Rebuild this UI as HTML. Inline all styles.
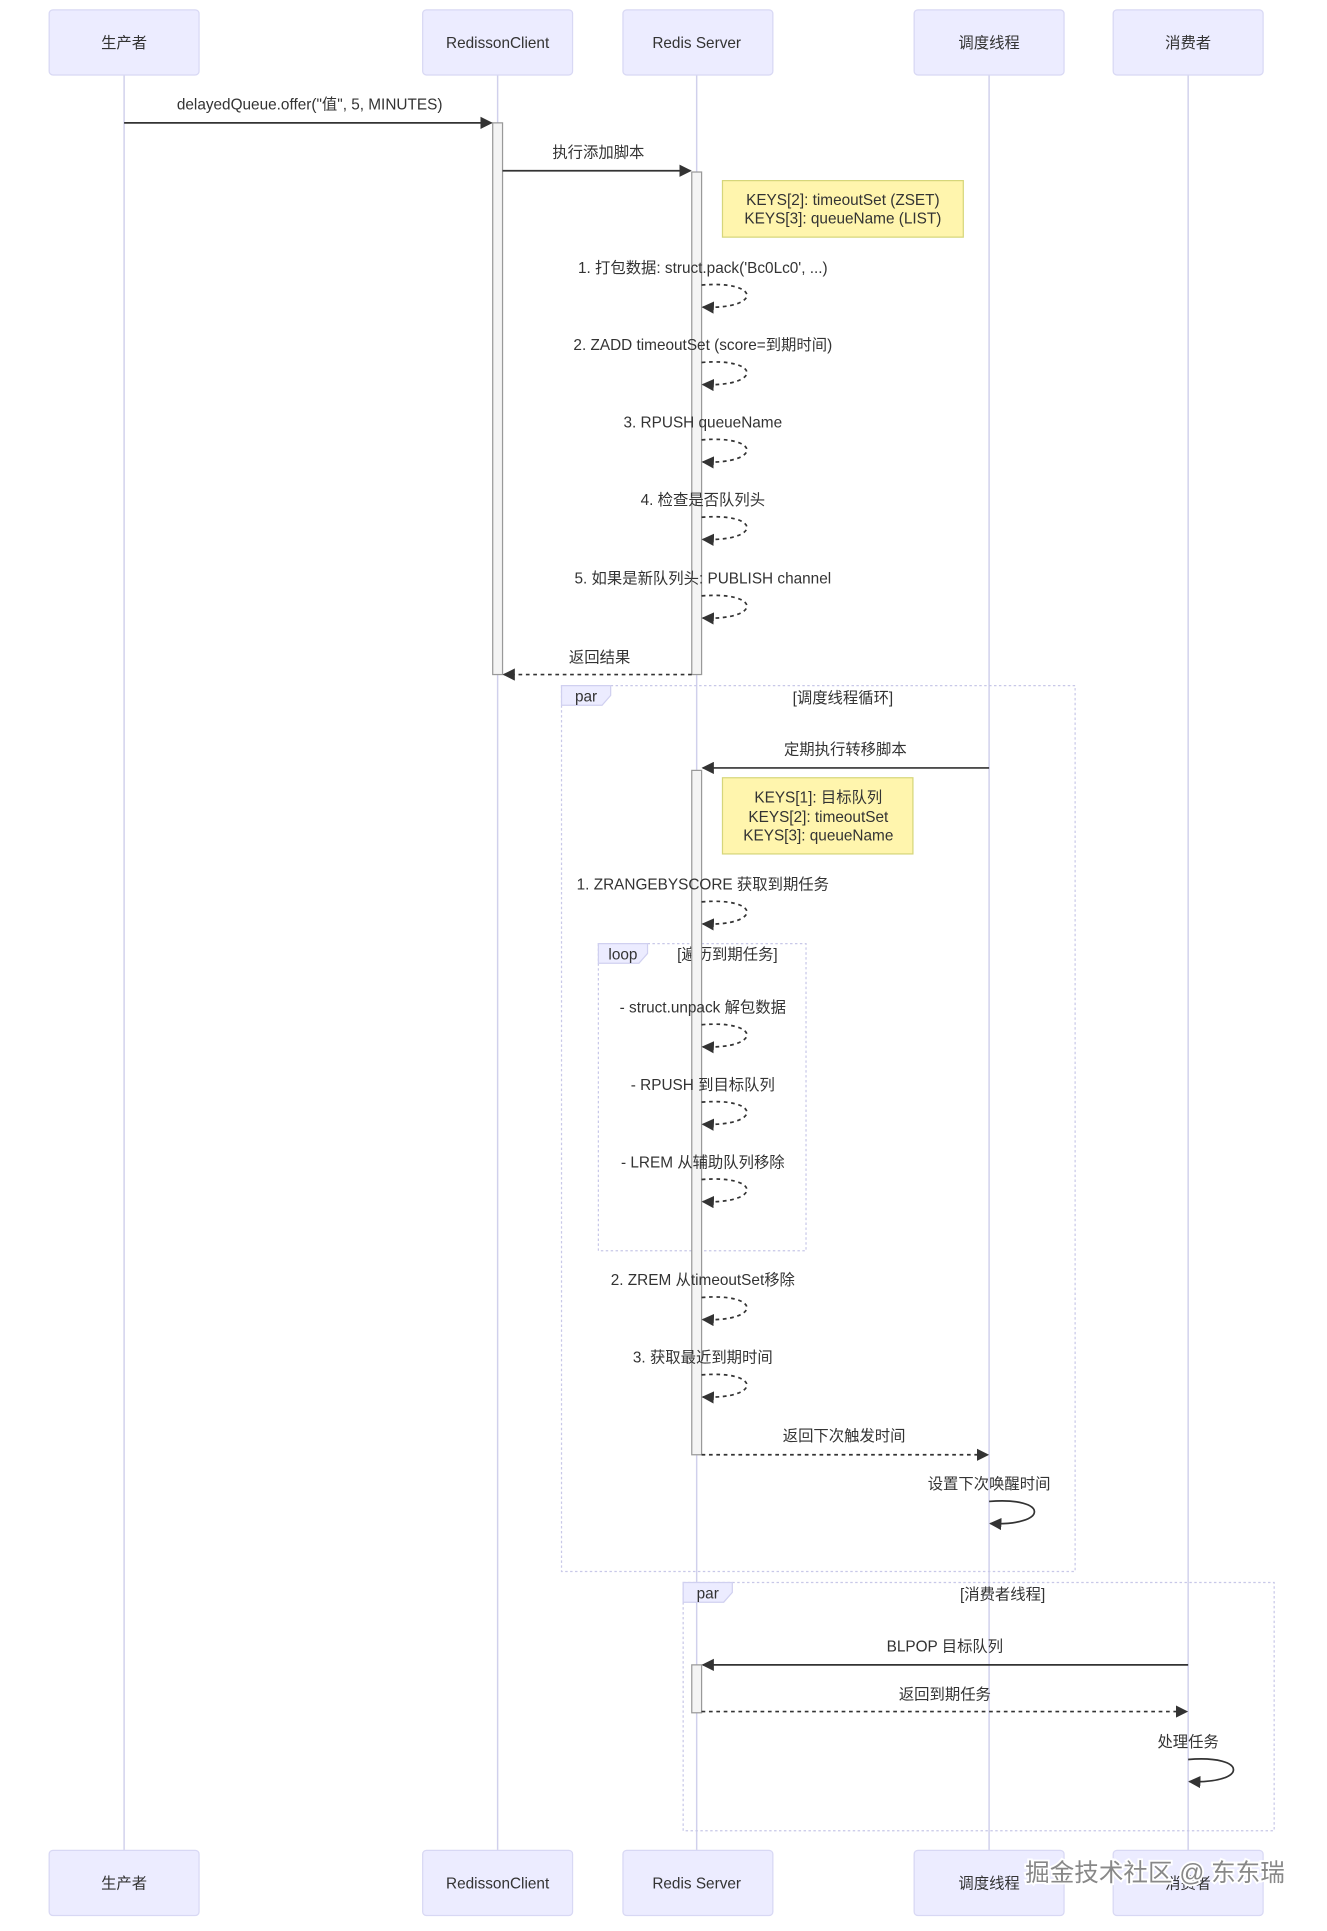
<!DOCTYPE html>
<html><head><meta charset="utf-8"><style>
html,body{margin:0;padding:0;background:#fff;}
svg{display:block;}
text{font-family:"Liberation Sans","Noto Sans CJK SC",sans-serif;font-size:12.5px;fill:#333;}
</style></head><body>
<svg width="1327" height="1931" viewBox="0 0 1080 1571.6" xmlns="http://www.w3.org/2000/svg">
<defs>
<marker id="ah" markerWidth="10" markerHeight="10" refX="9" refY="5" orient="auto" markerUnits="userSpaceOnUse"><path d="M0,0 L10,5 L0,10 z" fill="#333"/></marker>
</defs>
<rect width="1080" height="1572" fill="#fff"/>
<!-- lifelines -->
<g stroke="#d0d0ec" stroke-width="1.2">
<line x1="101" y1="61" x2="101" y2="1506"/><line x1="405" y1="61" x2="405" y2="1506"/><line x1="567" y1="61" x2="567" y2="1506"/><line x1="805" y1="61" x2="805" y2="1506"/><line x1="967" y1="61" x2="967" y2="1506"/>
</g>
<!-- actor boxes -->
<g fill="#ececff" stroke="#d8d8f4" stroke-width="1">
<rect x="40" y="8" width="122" height="53" rx="3"/><rect x="344" y="8" width="122" height="53" rx="3"/><rect x="507" y="8" width="122" height="53" rx="3"/><rect x="744" y="8" width="122" height="53" rx="3"/><rect x="906" y="8" width="122" height="53" rx="3"/>
<rect x="40" y="1506" width="122" height="53" rx="3"/><rect x="344" y="1506" width="122" height="53" rx="3"/><rect x="507" y="1506" width="122" height="53" rx="3"/><rect x="744" y="1506" width="122" height="53" rx="3"/><rect x="906" y="1506" width="122" height="53" rx="3"/>
</g>
<g text-anchor="middle">
<text x="101" y="39">生产者</text><text x="405" y="39">RedissonClient</text><text x="567" y="39">Redis Server</text><text x="805" y="39">调度线程</text><text x="967" y="39">消费者</text>
<text x="101" y="1537">生产者</text><text x="405" y="1537">RedissonClient</text><text x="567" y="1537">Redis Server</text><text x="805" y="1537">调度线程</text><text x="967" y="1537">消费者</text>
</g>
<!-- frames -->
<g fill="none" stroke="#c8c8e8" stroke-dasharray="2,2" stroke-width="1">
<rect x="457" y="558" width="418" height="721"/>
<rect x="487" y="768" width="169" height="250"/>
<rect x="556" y="1288" width="481" height="202"/>
</g>
<g fill="#ececff" stroke="#d0d0f0">
<path d="M457,558 H497 V566 L490,574 H457 z"/>
<path d="M487,768 H527 V776 L520,784 H487 z"/>
<path d="M556,1288 H596 V1296 L589,1304 H556 z"/>
</g>
<text x="477" y="571" text-anchor="middle">par</text>
<text x="507" y="781" text-anchor="middle">loop</text>
<text x="576" y="1301" text-anchor="middle">par</text>
<text x="686" y="572" text-anchor="middle">[调度线程循环]</text>
<text x="592" y="781" text-anchor="middle">[遍历到期任务]</text>
<text x="816" y="1302" text-anchor="middle">[消费者线程]</text>
<!-- activations -->
<g fill="#f4f4f4" stroke="#999" stroke-width="1">
<rect x="401" y="100" width="8" height="449"/>
<rect x="563" y="140" width="8" height="409"/>
<rect x="563" y="627" width="8" height="557"/>
<rect x="563" y="1355" width="8" height="39"/>
</g>
<!-- notes -->
<g fill="#fff5ad" stroke="#d6d67a">
<rect x="588" y="147" width="196" height="46"/>
<rect x="588" y="633" width="155" height="62"/>
</g>
<g text-anchor="middle">
<text x="686" y="167">KEYS[2]: timeoutSet (ZSET)</text><text x="686" y="182">KEYS[3]: queueName (LIST)</text>
<text x="666" y="653">KEYS[1]: 目标队列</text><text x="666" y="669">KEYS[2]: timeoutSet</text><text x="666" y="684">KEYS[3]: queueName</text>
</g>
<!-- messages -->
<g stroke="#333" stroke-width="1.4" fill="none">
<line x1="101" y1="100" x2="400" y2="100" marker-end="url(#ah)"/>
<line x1="409" y1="139" x2="562" y2="139" marker-end="url(#ah)"/>
<line x1="563" y1="549" x2="410" y2="549" stroke-dasharray="3,3" marker-end="url(#ah)"/>
<line x1="805" y1="625" x2="572" y2="625" marker-end="url(#ah)"/>
<line x1="571" y1="1184" x2="804" y2="1184" stroke-dasharray="3,3" marker-end="url(#ah)"/>
<line x1="967" y1="1355" x2="572" y2="1355" marker-end="url(#ah)"/>
<line x1="571" y1="1393" x2="966" y2="1393" stroke-dasharray="3,3" marker-end="url(#ah)"/>
<g stroke-dasharray="3,3">
<path d="M571,232 C620,228 620,252 572,250" marker-end="url(#ah)"/>
<path d="M571,295 C620,291 620,315 572,313" marker-end="url(#ah)"/>
<path d="M571,358 C620,354 620,378 572,376" marker-end="url(#ah)"/>
<path d="M571,421 C620,417 620,441 572,439" marker-end="url(#ah)"/>
<path d="M571,485 C620,481 620,505 572,503" marker-end="url(#ah)"/>
<path d="M571,734 C620,730 620,754 572,752" marker-end="url(#ah)"/>
<path d="M571,834 C620,830 620,854 572,852" marker-end="url(#ah)"/>
<path d="M571,897 C620,893 620,917 572,915" marker-end="url(#ah)"/>
<path d="M571,960 C620,956 620,980 572,978" marker-end="url(#ah)"/>
<path d="M571,1056 C620,1052 620,1076 572,1074" marker-end="url(#ah)"/>
<path d="M571,1119 C620,1115 620,1139 572,1137" marker-end="url(#ah)"/>
</g>
<path d="M805,1222 C854,1218 854,1242 806,1240" marker-end="url(#ah)"/>
<path d="M967,1432 C1016,1428 1016,1452 968,1450" marker-end="url(#ah)"/>
</g>
<g text-anchor="middle">
<text x="252" y="89">delayedQueue.offer("值", 5, MINUTES)</text>
<text x="487" y="128">执行添加脚本</text>
<text x="572" y="222">1. 打包数据: struct.pack('Bc0Lc0', ...)</text>
<text x="572" y="285">2. ZADD timeoutSet (score=到期时间)</text>
<text x="572" y="348">3. RPUSH queueName</text>
<text x="572" y="411">4. 检查是否队列头</text>
<text x="572" y="475">5. 如果是新队列头: PUBLISH channel</text>
<text x="488" y="539">返回结果</text>
<text x="688" y="614">定期执行转移脚本</text>
<text x="572" y="724">1. ZRANGEBYSCORE 获取到期任务</text>
<text x="572" y="824">- struct.unpack 解包数据</text>
<text x="572" y="887">- RPUSH 到目标队列</text>
<text x="572" y="950">- LREM 从辅助队列移除</text>
<text x="572" y="1046">2. ZREM 从timeoutSet移除</text>
<text x="572" y="1109">3. 获取最近到期时间</text>
<text x="687" y="1173">返回下次触发时间</text>
<text x="805" y="1212">设置下次唤醒时间</text>
<text x="769" y="1344">BLPOP 目标队列</text>
<text x="769" y="1383">返回到期任务</text>
<text x="967" y="1422">处理任务</text>
</g>
<text x="940" y="1531" text-anchor="middle" style="font-size:20px;fill:#888;stroke:#fff;stroke-width:3;paint-order:stroke;">掘金技术社区 @ 东东瑞</text>
</svg>
</body></html>
